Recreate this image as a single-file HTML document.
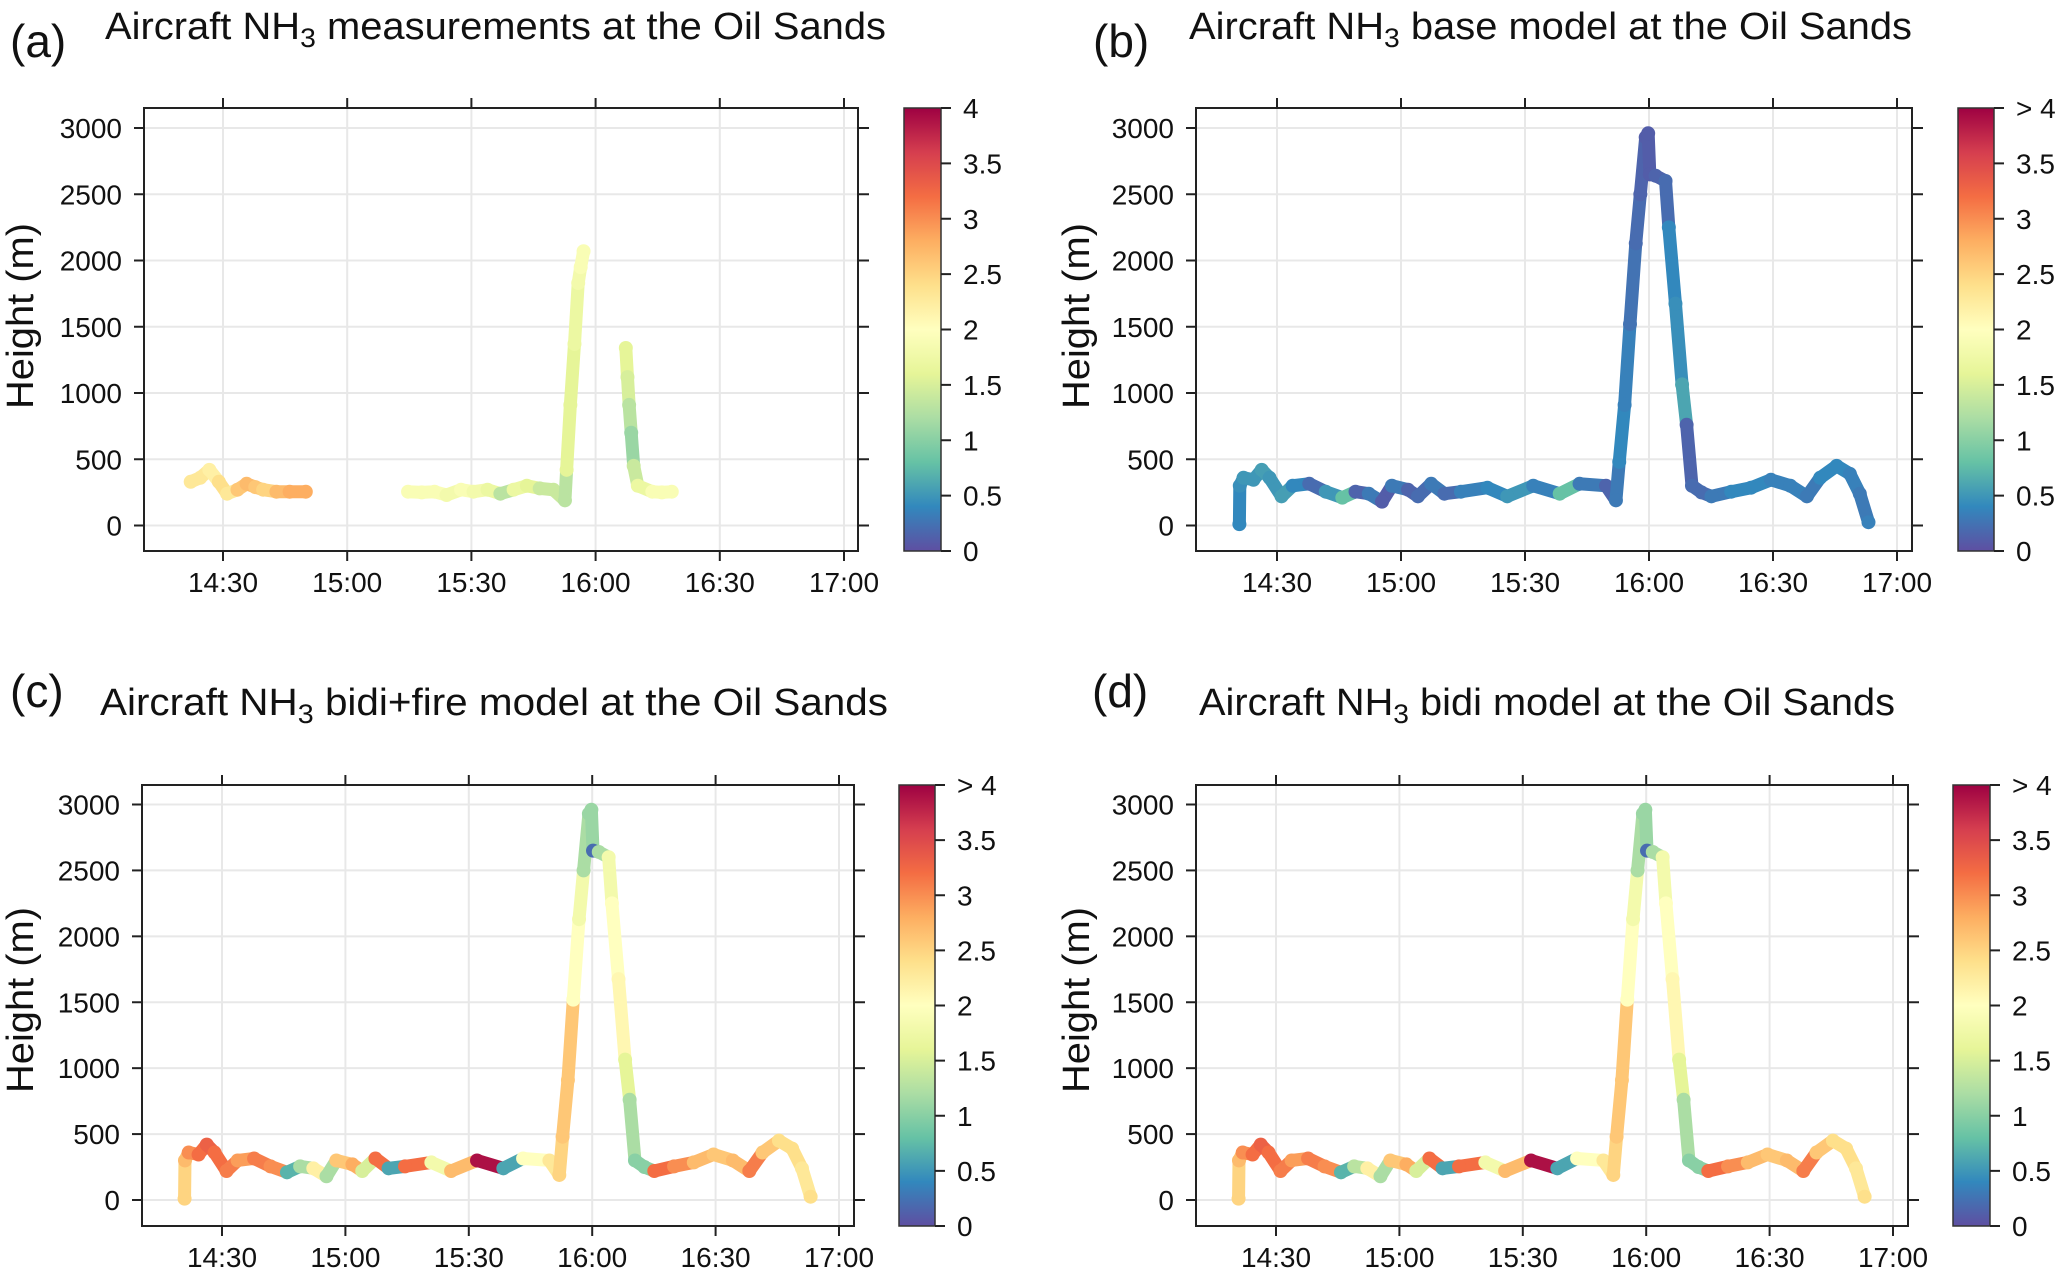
<!DOCTYPE html>
<html><head><meta charset="utf-8">
<style>
html,body{margin:0;padding:0;background:#fff;}
svg{display:block;}
text{font-family:"Liberation Sans Narrow","Liberation Sans",sans-serif;fill:#111;}
</style></head>
<body>
<svg id="fig" width="2067" height="1269" viewBox="0 0 2067 1269" xmlns="http://www.w3.org/2000/svg">
<defs>
<linearGradient id="spec" x1="0" y1="1" x2="0" y2="0">
<stop offset="0" stop-color="#5E4FA2"/><stop offset="0.1" stop-color="#3288BD"/><stop offset="0.2" stop-color="#66C2A5"/><stop offset="0.3" stop-color="#ABDDA4"/><stop offset="0.4" stop-color="#E6F598"/><stop offset="0.5" stop-color="#FFFFBF"/><stop offset="0.6" stop-color="#FEE08B"/><stop offset="0.7" stop-color="#FDAE61"/><stop offset="0.8" stop-color="#F46D43"/><stop offset="0.9" stop-color="#D53E4F"/><stop offset="1" stop-color="#9E0142"/>
</linearGradient>
</defs>
</svg>
<script>
// ---- data ----
const yTicks = [0, 500, 1000, 1500, 2000, 2500, 3000];
const xTickMinutes = [30, 60, 90, 120, 150, 180];
const xTickLabels = ["14:30", "15:00", "15:30", "16:00", "16:30", "17:00"];
const cbTicks = [0, 0.5, 1, 1.5, 2, 2.5, 3, 3.5, 4];
const cbLabelsA = ["0", "0.5", "1", "1.5", "2", "2.5", "3", "3.5", "4"];
const cbLabelsModel = ["0", "0.5", "1", "1.5", "2", "2.5", "3", "3.5", "> 4"];
// minutes after 14:00
const measTime = [22.2, 24.5, 26.7, 29, 31, 33.5, 35.7, 37.8, 39.7, 42.9, 46.1, 50, null, 74.7, 78, 81.1, 84, 87.5, 90.5, 93.9, 97, 100.2, 103.4, 106.5, 109.8, 112.6, 113, 113.9, 114.9, 115.8, 116.4, 117.1, null, 127.3, 127.7, 128.1, 128.6, 129.2, 130.2, 133.7, 136, 138.4];
const measHeight = [330, 360, 420, 330, 240, 270, 315, 290, 270, 255, 255, 255, null, 255, 250, 255, 230, 270, 255, 270, 240, 270, 300, 280, 270, 190, 420, 910, 1370, 1830, 1950, 2070, null, 1340, 1120, 910, 700, 450, 300, 255, 250, 255];
const measValue = [2.3, 2.3, 2.2, 2.4, 2.3, 2.6, 2.7, 2.6, 2.5, 2.7, 2.8, 2.8, null, 1.9, 1.9, 1.9, 1.8, 1.9, 1.8, 1.7, 1.3, 1.7, 1.6, 1.4, 1.4, 1.3, 1.6, 1.6, 1.7, 1.8, 1.9, 1.9, null, 1.6, 1.5, 1.3, 1.1, 1.4, 1.7, 1.9, 1.9, 1.9];
const trackTime = [20.9, 21, 21.9, 24.3, 26.3, 28.2, 31.1, 33.8, 37.8, 41.8, 45.8, 49, 52.2, 55.4, 57.8, 61.7, 64.1, 67.3, 70.5, 74.5, 80.9, 85.7, 92, 98.4, 103.2, 109.6, 112, 112.8, 114.1, 115.4, 116.8, 117.9, 119.2, 119.8, 120.2, 121.6, 124, 124.8, 126.4, 128, 129.1, 130.4, 132.7, 135.1, 139.9, 144.7, 149.5, 154.2, 158.2, 161.4, 165.4, 168.6, 171, 173.1];
const trackHeight = [10, 300, 360, 345, 420, 360, 220, 300, 315, 255, 210, 255, 240, 180, 300, 270, 220, 315, 240, 255, 285, 220, 300, 240, 315, 300, 190, 480, 910, 1520, 2130, 2500, 2930, 2960, 2650, 2640, 2600, 2250, 1675, 1065, 760, 300, 250, 220, 255, 285, 345, 300, 220, 360, 450, 390, 240, 25];
const baseValue = [0.4, 0.45, 0.5, 0.5, 0.55, 0.5, 0.55, 0.4, 0.2, 0.5, 0.8, 0.15, 0.3, 0.1, 0.3, 0.15, 0.2, 0.3, 0.2, 0.35, 0.4, 0.5, 0.35, 0.8, 0.3, 0.15, 0.3, 0.4, 0.35, 0.25, 0.2, 0.15, 0.1, 0.1, 0.1, 0.15, 0.2, 0.4, 0.45, 0.6, 0.15, 0.2, 0.2, 0.3, 0.4, 0.4, 0.35, 0.35, 0.3, 0.4, 0.4, 0.35, 0.3, 0.35];
const fireValue = [2.5, 2.7, 3.0, 3.2, 3.3, 3.2, 3.1, 2.9, 3.1, 3.0, 0.7, 1.2, 2.2, 1.2, 2.6, 2.8, 1.5, 3.2, 0.6, 3.2, 1.8, 2.7, 3.9, 0.6, 2.0, 2.3, 2.5, 2.6, 2.6, 2.0, 1.8, 1.2, 1.1, 1.1, 0.2, 1.2, 1.8, 2.0, 2.1, 1.6, 1.2, 1.0, 1.0, 3.2, 3.0, 2.7, 2.6, 2.7, 3.1, 2.6, 2.4, 2.4, 2.3, 2.4];
const bidiValue = [2.5, 2.7, 3.0, 3.2, 3.3, 3.2, 3.1, 2.9, 3.1, 3.0, 0.7, 1.3, 2.2, 1.2, 2.6, 2.8, 1.5, 3.2, 0.6, 3.2, 1.8, 2.7, 3.9, 0.6, 2.0, 2.3, 2.5, 2.6, 2.6, 2.0, 1.8, 1.2, 1.1, 1.1, 0.2, 1.2, 1.8, 2.0, 2.1, 1.6, 1.2, 1.0, 1.0, 3.2, 3.0, 2.7, 2.6, 2.7, 3.1, 2.6, 2.4, 2.4, 2.3, 2.4];

// ---- layout ----
const panels = [
 {id:"a", tag:"(a)", tagX:10, tagY:57, title:"measurements at the Oil Sands", tX:105, tW:781, tY:39,
  L:144, R:858, T:108, B:551, y3000:128, y0:525.5, x30:223, x180:844, cbL:904, cbR:941, hX:20, hY:316,
  time:measTime, height:measHeight, val:measValue, cbl:cbLabelsA},
 {id:"b", tag:"(b)", tagX:1093, tagY:57, title:"base model at the Oil Sands", tX:1189, tW:723, tY:39,
  L:1196, R:1912, T:108, B:551, y3000:128, y0:525.5, x30:1277, x180:1897, cbL:1958, cbR:1994, hX:1076, hY:316,
  time:trackTime, height:trackHeight, val:baseValue, cbl:cbLabelsModel},
 {id:"c", tag:"(c)", tagX:10, tagY:707, title:"bidi+fire model  at the Oil Sands", tX:100, tW:788, tY:715,
  L:142, R:854, T:785, B:1226, y3000:804.5, y0:1200, x30:222, x180:839, cbL:899, cbR:935, hX:20, hY:1000,
  time:trackTime, height:trackHeight, val:fireValue, cbl:cbLabelsModel},
 {id:"d", tag:"(d)", tagX:1092, tagY:707, title:"bidi model at the Oil Sands", tX:1199, tW:696, tY:715,
  L:1196, R:1908, T:785, B:1226, y3000:804.5, y0:1200, x30:1276, x180:1893, cbL:1953, cbR:1990, hX:1076, hY:1000,
  time:trackTime, height:trackHeight, val:bidiValue, cbl:cbLabelsModel}
];

const stops = ["#5E4FA2","#3288BD","#66C2A5","#ABDDA4","#E6F598","#FFFFBF","#FEE08B","#FDAE61","#F46D43","#D53E4F","#9E0142"];
function hex(c){return [parseInt(c.substr(1,2),16),parseInt(c.substr(3,2),16),parseInt(c.substr(5,2),16)];}
function colorFor(v){
  let t = Math.max(0, Math.min(4, v)) / 4 * 10;
  let i = Math.min(9, Math.floor(t)), f = t - i;
  let a = hex(stops[i]), b = hex(stops[i+1]);
  return "rgb(" + a.map((x,k)=>Math.round(x + (b[k]-x)*f)).join(",") + ")";
}
const NS = "http://www.w3.org/2000/svg";
const svg = document.getElementById("fig");
function mk(tag, attrs, parent){
  const e = document.createElementNS(NS, tag);
  for (const k in attrs) e.setAttribute(k, attrs[k]);
  (parent || svg).appendChild(e);
  return e;
}

panels.forEach(p => {
  const g = mk("g", {});
  
  
  const xs = t => p.x30 + (t - 30) * (p.x180 - p.x30) / 150;
  const ys = h => p.y0 + (h) * (p.y3000 - p.y0) / 3000;

  const tg = mk("text", {x:p.tagX, y:p.tagY, "font-size":46, style:"font-family:'Liberation Sans',sans-serif"}, g);
  tg.textContent = p.tag;
  
  
  const tt = mk("text", {x:p.tX, y:p.tY, "font-size":38, textLength:p.tW, lengthAdjust:"spacingAndGlyphs"}, g);
  tt.innerHTML = 'Aircraft NH<tspan font-size="27" dy="8">3</tspan><tspan dy="-8"> ' + p.title + '</tspan>';
  
  

  yTicks.forEach(v => {
    const l = mk("line", {x1:p.L, x2:p.R, y1:ys(v), y2:ys(v), stroke:"#e8e8e8", "stroke-width":2}, g);
    
    
  });
  xTickMinutes.forEach(m => {
    const l = mk("line", {x1:xs(m), x2:xs(m), y1:p.T, y2:p.B, stroke:"#e8e8e8", "stroke-width":2}, g);
    
    
  });

  const mg = mk("g", {"stroke-linecap":"round"}, g);
  
  
  for (let i = 0; i < p.time.length; i++) {
    if (p.time[i] === null) continue;
    const c = colorFor(p.val[i]);
    if (i + 1 < p.time.length && p.time[i+1] !== null) {
      const s = mk("line", {x1:xs(p.time[i]), y1:ys(p.height[i]), x2:xs(p.time[i+1]), y2:ys(p.height[i+1]), stroke:c, "stroke-width":13}, mg);
      
      
    }
    const d = mk("circle", {cx:xs(p.time[i]), cy:ys(p.height[i]), r:7, fill:c}, mg);
    
    
  }

  const fr = mk("rect", {x:p.L, y:p.T, width:p.R-p.L, height:p.B-p.T, fill:"none", stroke:"#222", "stroke-width":2}, g);
  
  

  yTicks.forEach(v => {
    const y = ys(v);
    const a = mk("line", {x1:p.L-10, x2:p.L, y1:y, y2:y, stroke:"#222", "stroke-width":2}, g);
    
    
    const b = mk("line", {x1:p.R, x2:p.R+11, y1:y, y2:y, stroke:"#222", "stroke-width":2}, g);
    
    
    const t = mk("text", {x:p.L-22, y:y+10, "font-size":28, "text-anchor":"end"}, g);
    t.textContent = String(v);
    
    
  });
  xTickMinutes.forEach((m, i) => {
    const x = xs(m);
    const a = mk("line", {x1:x, x2:x, y1:p.B, y2:p.B+10, stroke:"#222", "stroke-width":2}, g);
    
    
    const b = mk("line", {x1:x, x2:x, y1:p.T-10, y2:p.T, stroke:"#222", "stroke-width":2}, g);
    
    
    const t = mk("text", {x:x, y:p.B+41, "font-size":28, "text-anchor":"middle"}, g);
    t.textContent = xTickLabels[i];
    
    
  });
  const yt = mk("text", {x:0, y:0, "font-size":38, "text-anchor":"middle", textLength:186, lengthAdjust:"spacingAndGlyphs",
    transform:"translate(" + (p.hX + 13) + "," + p.hY + ") rotate(-90)", style:"font-family:'Liberation Sans',sans-serif"}, g);
  yt.textContent = "Height (m)";
  
  

  const cb = mk("rect", {x:p.cbL, y:p.T, width:p.cbR-p.cbL, height:p.B-p.T, fill:"url(#spec)", stroke:"#333", "stroke-width":1.5}, g);
  
  
  cbTicks.forEach((v, i) => {
    const y = p.B - v / 4 * (p.B - p.T);
    const a = mk("line", {x1:p.cbR, x2:p.cbR+10, y1:y, y2:y, stroke:"#222", "stroke-width":2}, g);
    
    
    const t = mk("text", {x:p.cbR+22, y:y+10, "font-size":28}, g);
    t.textContent = p.cbl[i];
    
    
  });
});
</script>
</body></html>
